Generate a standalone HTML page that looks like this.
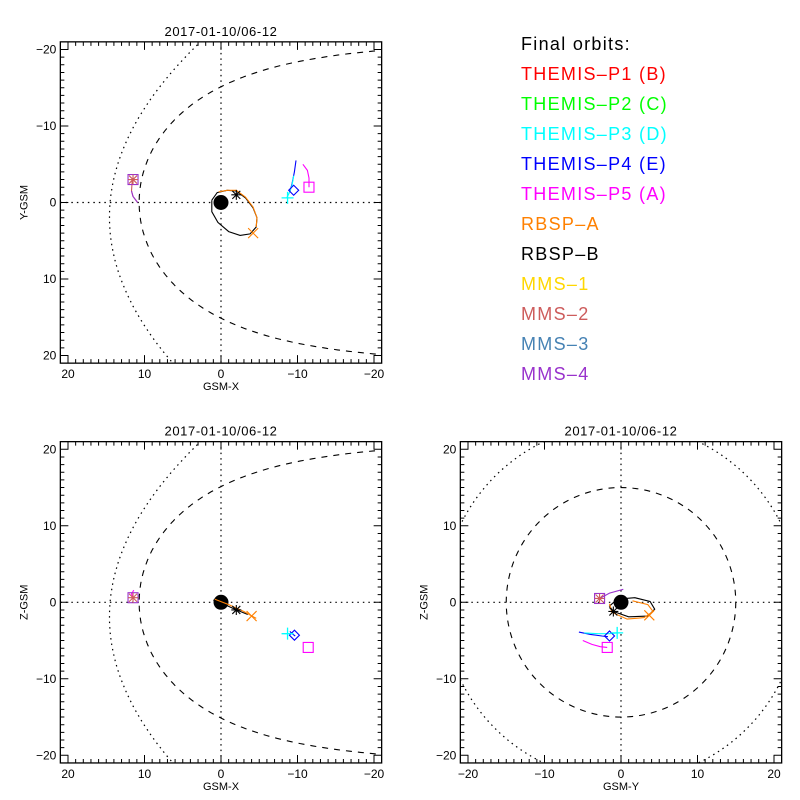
<!DOCTYPE html>
<html><head><meta charset="utf-8"><style>
body{margin:0;background:#fff;}
svg{display:block;font-family:"Liberation Sans",sans-serif;}
</style></head><body>
<svg id="c" width="800" height="800" viewBox="0 0 800 800"></svg>
<script>
// ---- data (GSM coordinates, Re) ----
const panelTitles = ["2017-01-10/06-12","2017-01-10/06-12","2017-01-10/06-12"];
const tickValues = [-20,-10,0,10,20];
const legendLabels = ["Final orbits:","THEMIS-P1 (B)","THEMIS-P2 (C)","THEMIS-P3 (D)","THEMIS-P4 (E)","THEMIS-P5 (A)","RBSP-A","RBSP-B","MMS-1","MMS-2","MMS-3","MMS-4"];
const legendColors = ["#000","#ff0000","#00ff00","#00ffff","#0000ff","#ff00ff","#ff8000","#000","#ffd700","#cd5c5c","#4682b4","#9932cc"];
// magnetopause/bow shock params
const mpStandoff = 10.7, mpFlare = 0.5, bsNose = 14.5, bsFlare = 0.0227, bsSkew = 0.086, bsRadiusYZ = 23.3, mpRadiusYZ = 15;
// Panel XY tracks [X,Y]
const xyMMS = [[11.6,-3],[11.7,-1.5],[11.5,-0.8],[10.9,0]];
const xyP4 = [[-9.8,-5.5],[-9.6,-4],[-9.3,-2.5],[-9.0,-1.4]];
const xyP3 = [[-9.5,-3.5],[-9.3,-2.3],[-8.9,-1.2],[-8.6,-0.6]];
const xyP5 = [[-10.7,-5],[-11.3,-4.2],[-11.5,-3.2],[-11.5,-2]];
const xyRBSPB = [[1.2,-0.3],[0.5,-1.3],[-0.8,-1.6],[-2,-1.5],[-3.2,-0.6],[-4.2,0.7],[-4.7,2],[-4.6,3.2],[-3.8,4.1],[-2.5,4.3],[-1,3.8],[0.4,2.6],[1.2,1.2],[1.2,-0.3]];
const xyRBSPA = [[0.3,-1.4],[-0.8,-1.6],[-2,-1.6],[-3.2,-0.7],[-4.2,0.6],[-4.7,2],[-4.6,3.2]];
const xyMarks = {mms:[11.5,-3],p4:[-9.5,-1.6],p3:[-8.7,-0.6],p5:[-11.5,-2],rbspB:[-2,-1],rbspA:[-4.2,4]};
// Panel XZ tracks [X,Z]
const xzMMS = [[11.4,1.6],[11.7,1.1],[11.5,0.6]];
const xzRBSPB = [[1,0.3],[-0.5,-0.3],[-2,-1],[-3.5,-1.6]];
const xzRBSPA = [[0.8,0.4],[-1,-0.3],[-3,-1.2],[-4.6,-2.1]];
const xzP4 = [[-9.0,-3.8],[-9.3,-4.1],[-9.7,-4.4]];
const xzMarks = {mms:[11.5,0.6],p4:[-9.6,-4.3],p3:[-8.7,-4.1],p5:[-11.4,-5.9],rbspB:[-2,-1],rbspA:[-4,-1.8]};
// Panel YZ tracks [Y,Z]
const yzMMS = [[-2.8,0.5],[-1.5,1.2],[0.3,1.7]];
const yzP4 = [[-5.5,-3.9],[-4,-4.2],[-2.5,-4.4],[-1.7,-4.5]];
const yzP3 = [[-4.8,-4],[-3,-4.1],[-1.5,-4.1],[-0.5,-4]];
const yzP5 = [[-5,-5],[-3.8,-5.5],[-2.7,-5.8],[-1.8,-5.9]];
const yzRBSPB = [[-1,-1.2],[-1.5,-0.5],[-0.5,0.4],[1.8,0.6],[3.8,0.1],[4.4,-0.9],[3.5,-1.8],[1,-1.9],[-1,-1.2]];
const yzRBSPA = [[-1.5,-0.2],[-1.2,-1.3],[0.8,-2.2],[3,-2],[4.2,-1.2],[3.5,-0.3],[1.5,0.2]];
const yzMarks = {mms:[-2.8,0.5],p4:[-1.5,-4.4],p3:[-0.5,-4],p5:[-1.8,-5.9],rbspB:[-1,-1.2],rbspA:[3.7,-1.7]};

const NS="http://www.w3.org/2000/svg", svg=document.getElementById('c');
function el(tag,attrs,parent){const e=document.createElementNS(NS,tag);for(const k in attrs)e.setAttribute(k,attrs[k]);(parent||svg).appendChild(e);return e;}
const S=7.65;
function mk(cx,cy,sx,sy){return {x:v=>cx+sx*v*S,y:v=>cy+sy*v*S,cx,cy};}
function pts(arr,ax){return arr.map(p=>ax.x(p[0]).toFixed(1)+','+ax.y(p[1]).toFixed(1)).join(' ');}
function line(arr,ax,col,name,g){const e=el('polyline',{points:pts(arr,ax),fill:'none',stroke:col,'stroke-width':1.1},g);}
function square(p,ax,col,g,name){const e=el('rect',{x:ax.x(p[0])-5,y:ax.y(p[1])-5,width:10,height:10,fill:'none',stroke:col,'stroke-width':1.1},g);}
function diamond(p,ax,col,g){const x=ax.x(p[0]),y=ax.y(p[1]);const e=el('polygon',{points:`${x},${y-5} ${x+5},${y} ${x},${y+5} ${x-5},${y}`,fill:'none',stroke:col,'stroke-width':1.1},g);}
function plus(p,ax,col,g){const x=ax.x(p[0]),y=ax.y(p[1]);const e=el('path',{d:`M${x-6},${y}H${x+6}M${x},${y-6}V${y+6}`,stroke:col,'stroke-width':1.3},g);}
function cross(p,ax,col,g){const x=ax.x(p[0]),y=ax.y(p[1]);const e=el('path',{d:`M${x-5},${y-5}L${x+5},${y+5}M${x-5},${y+5}L${x+5},${y-5}`,stroke:col,'stroke-width':1.1},g);}
function star(p,ax,col,g){const x=ax.x(p[0]),y=ax.y(p[1]);const e=el('path',{d:`M${x-5},${y}H${x+5}M${x},${y-5}V${y+5}M${x-4},${y-4}L${x+4},${y+4}M${x-4},${y+4}L${x+4},${y-4}`,stroke:col,'stroke-width':1.1},g);}

function panel(name,cx,cy,sx,sy,title,xlabel,ylabel,xlab,ylab){
  const g=el('g',{});
  const ax=mk(cx,cy,sx,sy);const L=cx-21*S,R=cx+21*S,T=cy-21*S,B=cy+21*S;
  const defs=el('clipPath',{id:'cl'+name},g);el('rect',{x:L,y:T,width:R-L,height:B-T},defs);
  const inner=el('g',{'clip-path':`url(#cl${name})`},g);
  el('path',{d:`M${L},${cy}H${R}M${cx},${T}V${B}`,stroke:'#000','stroke-width':1.2,'stroke-dasharray':'1.5,4'},inner);
  const box=el('rect',{x:L,y:T,width:R-L,height:B-T,fill:'none',stroke:'#000','stroke-width':1.3},g);
  
  let d='';
  for(let v=-20;v<=20;v++){const len=(v%10===0)?8:4;const x=ax.x(v),y=cy+v*S;
    d+=`M${x},${B}v${-len}M${x},${T}v${len}M${L},${y}h${len}M${R},${y}h${-len}`;}
  el('path',{d,stroke:'#000','stroke-width':1},g);
  tickValues.forEach(v=>{
    const t=el('text',{x:ax.x(v),y:B+15,'font-size':12,'text-anchor':'middle'},g);t.textContent=xlab(v);
    const u=el('text',{x:L-4,y:cy+v*S+4,'font-size':12,'text-anchor':'end'},g);u.textContent=ylab(v);});
  const tt=el('text',{x:cx,y:T-6,'font-size':13,'text-anchor':'middle','letter-spacing':'0.6'},g);tt.textContent=title;
  const xl=el('text',{x:cx,y:B+27,'font-size':11,'text-anchor':'middle'},g);xl.textContent=xlabel;
  const yl=el('text',{x:0,y:0,'font-size':11,'text-anchor':'middle',transform:`translate(${L-33},${cy}) rotate(-90)`},g);yl.textContent=ylabel;
  return {g:inner,ax};
}
function fmt(v){return v<0?'\u2212'+(-v):''+v;}
function fmtNeg(v){return fmt(-v);}

function boundaries(P,flip){
  let mp=[],bs=[];
  for(let th=-2.8;th<=2.8;th+=0.02){const r=mpStandoff*Math.pow(2/(1+Math.cos(th)),mpFlare);mp.push([r*Math.cos(th),r*Math.sin(th)]);}
  for(let y=-24;y<=24;y+=0.5)bs.push([bsNose-bsFlare*y*y+bsSkew*y*flip,y]);
  const a=el('polyline',{points:pts(mp,P.ax),fill:'none',stroke:'#000','stroke-width':1.1,'stroke-dasharray':'6,6'},P.g);
  const b=el('polyline',{points:pts(bs,P.ax),fill:'none',stroke:'#000','stroke-width':1.2,'stroke-dasharray':'1.5,4'},P.g);
}
function earth(P){const e=el('circle',{cx:P.ax.cx,cy:P.ax.cy,r:7.5,fill:'#000'},P.g);}

// Panel 1: X-Y
const P1=panel('xy-panel',221,202.5,-1,1,panelTitles[0],'GSM-X','Y-GSM',fmt,fmt);
boundaries(P1,1);earth(P1);
line(xyRBSPB,P1.ax,'#000','rbsp-b-orbit',P1.g);line(xyRBSPA,P1.ax,'#ff8000','rbsp-a-orbit',P1.g);
line(xyMMS,P1.ax,'#cd5c5c','mms-orbit',P1.g);line(xyMMS.slice(1),P1.ax,'#9932cc','mms-4-orbit',P1.g);
line(xyP4,P1.ax,'#0000ff','themis-p4-orbit',P1.g);line(xyP3,P1.ax,'#00ffff','themis-p3-orbit',P1.g);line(xyP5,P1.ax,'#ff00ff','themis-p5-orbit',P1.g);
square(xyMarks.mms,P1.ax,'#9932cc',P1.g,'mms-marker');star(xyMarks.mms,P1.ax,'#cd5c5c',P1.g);
diamond(xyMarks.p4,P1.ax,'#0000ff',P1.g);plus(xyMarks.p3,P1.ax,'#00ffff',P1.g);square(xyMarks.p5,P1.ax,'#ff00ff',P1.g,'themis-p5-marker');
star(xyMarks.rbspB,P1.ax,'#000',P1.g);cross(xyMarks.rbspA,P1.ax,'#ff8000',P1.g);

// Panel 2: X-Z
const P2=panel('xz-panel',221,602.3,-1,-1,panelTitles[1],'GSM-X','Z-GSM',fmt,fmtNeg);
boundaries({g:P2.g,ax:{x:P2.ax.x,y:v=>602.3+v*S}},1);earth(P2);
line(xzRBSPB,P2.ax,'#000','rbsp-b-orbit',P2.g);line(xzRBSPA,P2.ax,'#ff8000','rbsp-a-orbit',P2.g);
line(xzMMS,P2.ax,'#ff00ff','mms-orbit',P2.g);line(xzP4,P2.ax,'#0000ff','themis-p4-orbit',P2.g);
square(xzMarks.mms,P2.ax,'#9932cc',P2.g,'mms-marker');star(xzMarks.mms,P2.ax,'#cd5c5c',P2.g);
diamond(xzMarks.p4,P2.ax,'#0000ff',P2.g);plus(xzMarks.p3,P2.ax,'#00ffff',P2.g);square(xzMarks.p5,P2.ax,'#ff00ff',P2.g,'themis-p5-marker');
star(xzMarks.rbspB,P2.ax,'#000',P2.g);cross(xzMarks.rbspA,P2.ax,'#ff8000',P2.g);

// Panel 3: Y-Z
const P3=panel('yz-panel',621,602.3,1,-1,panelTitles[2],'GSM-Y','Z-GSM',fmt,fmtNeg);
const c1=el('circle',{cx:621,cy:602.3,r:mpRadiusYZ*S,fill:'none',stroke:'#000','stroke-width':1.1,'stroke-dasharray':'6,6'},P3.g);
const c2=el('circle',{cx:621,cy:602.3,r:bsRadiusYZ*S,fill:'none',stroke:'#000','stroke-width':1.2,'stroke-dasharray':'1.5,4'},P3.g);
earth(P3);
line(yzRBSPB,P3.ax,'#000','rbsp-b-orbit',P3.g);line(yzRBSPA,P3.ax,'#ff8000','rbsp-a-orbit',P3.g);
line(yzMMS,P3.ax,'#9932cc','mms-orbit',P3.g);line(yzP4,P3.ax,'#0000ff','themis-p4-orbit',P3.g);line(yzP3,P3.ax,'#00ffff','themis-p3-orbit',P3.g);line(yzP5,P3.ax,'#ff00ff','themis-p5-orbit',P3.g);
square(yzMarks.mms,P3.ax,'#9932cc',P3.g,'mms-marker');star(yzMarks.mms,P3.ax,'#cd5c5c',P3.g);
diamond(yzMarks.p4,P3.ax,'#0000ff',P3.g);plus(yzMarks.p3,P3.ax,'#00ffff',P3.g);square(yzMarks.p5,P3.ax,'#ff00ff',P3.g,'themis-p5-marker');
star(yzMarks.rbspB,P3.ax,'#000',P3.g);cross(yzMarks.rbspA,P3.ax,'#ff8000',P3.g);

// Legend
const lg=el('g',{});
legendLabels.forEach((s,i)=>{const t=el('text',{x:521,y:50+i*30,'font-size':18,fill:legendColors[i],'letter-spacing':'1.3'},lg);t.textContent=s.replace(/-/g,'\u2013');
  
  });
</script>
</body></html>
